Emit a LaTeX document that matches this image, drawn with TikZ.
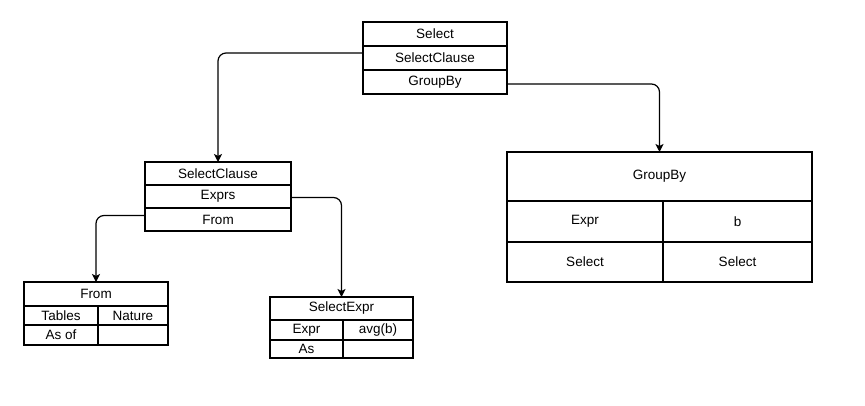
\documentclass[tikz,border=0pt]{standalone}
\usepackage{fontspec}
\setmainfont{Liberation Sans}
\usetikzlibrary{arrows.meta,positioning}

\begin{document}
\begin{tikzpicture}[x=1pt,y=-1pt,>={Stealth[length=8pt,width=8pt,inset=2pt]},
  font=\fontsize{13.5}{16}\selectfont,node distance=0pt,
  cell/.style 2 args={draw,line width=1.2pt,inner sep=0pt,outer sep=0pt,
                      minimum width=#1,minimum height=#2},
  link/.style={->,line width=1.2pt,rounded corners=8pt}]
\useasboundingbox (0,0) rectangle (865,406);
% Select
\node[cell={144}{24}] (sel) at (435,34) {Select};
\node[cell={144}{24},below=of sel] (selcl) {SelectClause};
\node[cell={144}{24},below=of selcl] (selgb) {GroupBy};
% SelectClause
\node[cell={146}{23}] (clause) at (218,173.5) {SelectClause};
\node[cell={146}{23},below=of clause] (exprs) {Exprs};
\node[cell={146}{23},below=of exprs] (from) {From};
% From
\node[cell={144}{24}] (ftitle) at (96,294) {From};
\node[cell={74}{19},below right=0pt and 0pt of ftitle.south west] (tables) {Tables};
\node[cell={70}{19},right=of tables] (nature) {Nature};
\node[cell={74}{20},below=of tables] (asof) {As of};
\node[cell={70}{20},below=of nature] (asofv) {};
% SelectExpr
\node[cell={143}{23}] (sexpr) at (341.5,308.5) {SelectExpr};
\node[cell={73}{20},below right=0pt and 0pt of sexpr.south west] (expr) {Expr};
\node[cell={70}{20},right=of expr] (avg) {avg(b)};
\node[cell={73}{18},below=of expr] (as) {As};
\node[cell={70}{18},below=of avg] (asv) {};
% GroupBy
\node[cell={305}{49}] (gb) at (659.5,176.5) {GroupBy};
\node[cell={156}{41},below right=0pt and 0pt of gb.south west] (gbexpr) {Expr};
\node[cell={149}{41},right=of gbexpr] (gbb) {b};
\node[cell={156}{40},below=of gbexpr] (gbsel) {Select};
\node[cell={149}{40},below=of gbb] (gbselv) {Select};
% links
\draw[link] ([yshift=5pt]selcl.west) -| (clause.north);
\draw[link] ([yshift=-2pt]selgb.east) -| (gb.north);
\draw[link] ([yshift=-1pt]exprs.east) -| (sexpr.north);
\draw[link] ([yshift=4pt]from.west) -| (ftitle.north);
\end{tikzpicture}
\end{document}
